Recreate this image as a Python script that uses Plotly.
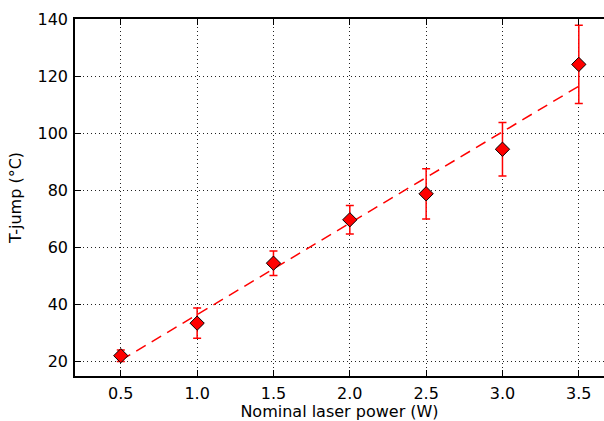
import plotly.graph_objects as go

power = [0.5, 1.0, 1.5, 2.0, 2.5, 3.0, 3.5]
tjump = [22.1, 33.5, 54.5, 69.7, 78.8, 94.4, 124.1]
tjump_err = [2.0, 5.3, 4.3, 5.0, 8.8, 9.4, 13.7]
fit_x = [0.5, 3.5]
fit_y = [20.5, 116.5]

x_ticks = [0.5, 1.0, 1.5, 2.0, 2.5, 3.0, 3.5]
x_tick_labels = ["0.5", "1.0", "1.5", "2.0", "2.5", "3.0", "3.5"]
y_ticks = [20, 40, 60, 80, 100, 120, 140]

fig = go.Figure()
fig.add_trace(go.Scatter(
    x=fit_x, y=fit_y, mode="lines",
    line=dict(color="red", width=1.5, dash="11px,7px"),
    showlegend=False, hoverinfo="skip"))
fig.add_trace(go.Scatter(
    x=power, y=tjump, mode="markers",
    marker=dict(symbol="diamond", size=11, color="red",
                line=dict(color="black", width=1)),
    error_y=dict(type="data", array=tjump_err, color="red",
                 thickness=1.5, width=4),
    showlegend=False))

axis_common = dict(
    showline=True, linecolor="black", linewidth=1.5,
    ticks="inside", ticklen=6, tickcolor="black", tickwidth=1.3,
    showgrid=True, gridcolor="#222222", gridwidth=1, griddash="1px,3px",
    zeroline=False, automargin=False,
    tickfont=dict(family="DejaVu Sans", size=16, color="black"),
)

fig.update_layout(
    width=604, height=421,
    margin=dict(l=75, r=0, t=19, b=45),
    paper_bgcolor="white", plot_bgcolor="white",
    font=dict(family="DejaVu Sans", size=16, color="black"),
    xaxis=dict(range=[0.2, 3.665], tickvals=x_ticks, ticktext=x_tick_labels,
               mirror="ticks", ticklabelstandoff=2,
               title=dict(text="Nominal laser power (W)", standoff=6,
                          font=dict(family="DejaVu Sans", size=16)),
               **axis_common),
    yaxis=dict(range=[15, 140], tickvals=y_ticks, mirror=False,
               ticklabelstandoff=2,
               title=dict(text="T-jump (°C)", standoff=12,
                          font=dict(family="DejaVu Sans", size=16)),
               **axis_common),
)

fig.write_html("out.html",
               config={"displayModeBar": False},
               post_script="document.body.style.margin='0';document.body.style.overflow='hidden';")
